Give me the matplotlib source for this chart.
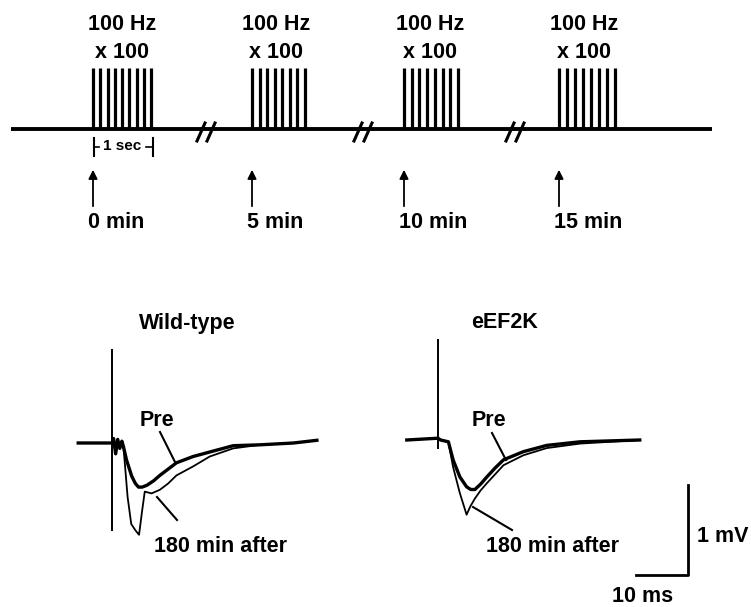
import numpy as np
import matplotlib
matplotlib.use("Agg")
import matplotlib.pyplot as plt

plt.rcParams['font.family'] = ['Liberation Sans', 'DejaVu Sans']

# stimulation protocol (top schematic)
train_times = ["0 min", "5 min", "10 min", "15 min"]
train_freq = "100 Hz"
train_reps = "x 100"
pulses_per_train = [9, 8, 8, 8]
train_duration = "1 sec"

# field EPSP traces: time (ms) after stimulus, voltage (mV)
wt_artifact_v = [1.03, -0.97]
wt_pre_t = [-6.5, 0.0, 0.3, 0.7, 1.1, 1.5, 1.9, 2.2, 2.8, 3.8, 4.5, 5.1, 5.8, 6.7,
            8.0, 9.2, 10.8, 12.4, 15.6, 18.8, 23.3, 28.5, 34.9, 39.4]
wt_pre_v = [0.0, 0.0, 0.05, -0.12, 0.04, -0.06, 0.02, -0.04, -0.19, -0.37, -0.45, -0.49,
            -0.49, -0.47, -0.42, -0.36, -0.29, -0.22, -0.15, -0.10, -0.03, -0.02, 0.0, 0.03]
wt_180_t = [-6.5, 0.0, 0.3, 0.7, 1.1, 1.5, 1.9, 2.2, 3.0, 3.7, 4.5, 5.2, 5.8, 6.3,
            7.6, 9.2, 10.8, 12.4, 15.6, 18.8, 23.3, 28.5, 34.9, 39.4]
wt_180_v = [0.0, 0.0, 0.05, -0.12, 0.04, -0.06, 0.02, -0.04, -0.60, -0.90, -0.97, -1.02,
            -0.75, -0.54, -0.56, -0.52, -0.45, -0.36, -0.26, -0.15, -0.06, -0.02, 0.0, 0.03]
ek_artifact_v = [1.11, -0.09]
ek_pre_t = [-6.0, 0.0, 0.5, 2.0, 2.9, 4.2, 5.5, 6.3, 7.1, 8.2, 9.4, 11.0, 12.6,
            16.4, 20.9, 27.3, 38.8]
ek_pre_v = [0.0, 0.02, 0.0, -0.02, -0.22, -0.41, -0.52, -0.55, -0.55, -0.49, -0.41,
            -0.31, -0.22, -0.13, -0.06, -0.02, 0.0]
ek_180_t = [-6.0, 0.0, 0.5, 2.0, 2.9, 4.2, 5.5, 6.2, 7.1, 8.2, 9.4, 11.0, 12.6,
            16.4, 20.9, 27.3, 38.8]
ek_180_v = [0.0, 0.02, 0.0, -0.02, -0.30, -0.59, -0.83, -0.74, -0.65, -0.56, -0.48,
            -0.38, -0.28, -0.17, -0.09, -0.04, 0.0]

bar_ms = 10
bar_mv = 1

W, H = 751, 607
fig = plt.figure(figsize=(W / 100, H / 100), dpi=100)

# trace axes: 5.2 px per ms, 90 px per mV, wild-type stimulus at px (112, 443)
top_px = 300
tax = fig.add_axes([0, 0, 1, (H - top_px) / H])
tax.set_xlim((0 - 112) / 5.2, (W - 112) / 5.2)
tax.set_ylim((443 - H) / 90, (443 - top_px) / 90)
tax.axis('off')

ek_dt = (438 - 112) / 5.2
ek_dv = (443 - 440) / 90

tax.plot([0, 0], wt_artifact_v, color='k', lw=1.4)
tax.plot(wt_180_t, wt_180_v, color='k', lw=1.3)
tax.plot(wt_pre_t, wt_pre_v, color='k', lw=2.4)
tax.plot([ek_dt, ek_dt], np.array(ek_artifact_v) + ek_dv, color='k', lw=1.4)
tax.plot(np.array(ek_180_t) + ek_dt, np.array(ek_180_v) + ek_dv, color='k', lw=1.3)
tax.plot(np.array(ek_pre_t) + ek_dt, np.array(ek_pre_v) + ek_dv, color='k', lw=2.4)

x0 = (688 - 112) / 5.2
y0 = (443 - 575) / 90
tax.plot([x0 - bar_ms, x0, x0], [y0, y0, y0 + bar_mv], color='k', lw=2)

# overlay in pixel coordinates for schematic and labels
ax = fig.add_axes([0, 0, 1, 1])
ax.set_xlim(0, W)
ax.set_ylim(H, 0)
ax.axis('off')

txt = dict(fontsize=15.5, fontweight='bold', color='k')
base_y = 129
ax.plot([11, 712], [base_y, base_y], color='k', lw=2.8, solid_capstyle='butt')

train_left = [93, 252, 404, 559]
train_right = [151, 305, 458, 615]
text_cx = [122, 276, 430, 584]
for i, n in enumerate(pulses_per_train):
    xs = np.linspace(train_left[i], train_right[i], n)
    ax.vlines(xs, 68, base_y, color='k', lw=2.3)
    ax.text(text_cx[i], 24, train_freq, ha='center', va='center', **txt)
    ax.text(text_cx[i], 52, train_reps, ha='center', va='center', **txt)
    ax.annotate('', xy=(train_left[i], 167), xytext=(train_left[i], 209),
                arrowprops=dict(arrowstyle='-|>', color='k', lw=1.3, mutation_scale=13))
    ax.text(train_left[i] - 5, 222, train_times[i], ha='left', va='center', **txt)

# break marks
for bx in [206, 363, 515]:
    for dx in [-5, 5]:
        ax.plot([bx + dx - 4, bx + dx + 4], [141, 123], color='k', lw=2.2)

# 1 sec bracket
ax.plot([94, 94], [138, 156], color='k', lw=1.5)
ax.plot([153, 153], [138, 156], color='k', lw=1.5)
ax.plot([94, 99], [147, 147], color='k', lw=1.2)
ax.plot([146, 153], [147, 147], color='k', lw=1.2)
ax.text(122, 146, train_duration, ha='center', va='center', fontsize=11,
        fontweight='bold')

# trace labels
ax.text(187, 323, "Wild-type", ha='center', va='center', **txt)
ax.text(505, 323, "eEF2K", ha='center', va='center', **txt)
ax.text(157, 420, "Pre", ha='center', va='center', **txt)
ax.text(489, 421, "Pre", ha='center', va='center', **txt)
ax.text(220, 547, "180 min after", ha='center', va='center', **txt)
ax.text(553, 547, "180 min after", ha='center', va='center', **txt)
ax.plot([160, 175], [432, 462], color='k', lw=1.5)
ax.plot([157, 177], [497, 520], color='k', lw=1.5)
ax.plot([492, 506], [433, 460], color='k', lw=1.5)
ax.plot([473, 512], [507, 530], color='k', lw=1.5)

ax.text(697, 536, f"{bar_mv} mV", ha='left', va='center', **txt)
ax.text(643, 596, f"{bar_ms} ms", ha='center', va='center', **txt)

fig.savefig("out.png", dpi=100, facecolor='white')
